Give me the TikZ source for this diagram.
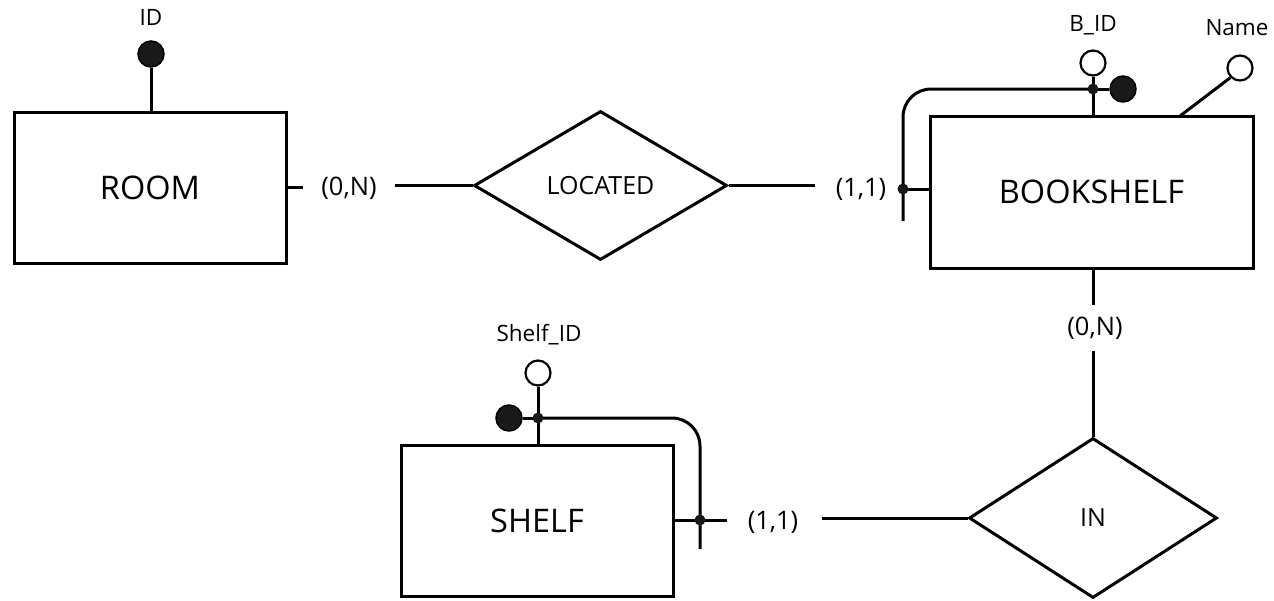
\documentclass[tikz,border=0pt]{standalone}
\usepackage{fontspec}
\setmainfont{Open Sans}
\usetikzlibrary{shapes.geometric,calc}
\begin{document}
\begin{tikzpicture}[x=1pt,y=-1pt,line width=3pt,
  entity/.style={draw,rectangle,inner sep=0,font=\fontsize{32.5}{36}\selectfont},
  relation/.style={draw,diamond,inner sep=0,font=\fontsize{25}{28}\selectfont},
  card/.style={inner sep=0,font=\fontsize{25.5}{28}\selectfont},
  attrlbl/.style={inner sep=0,font=\fontsize{22.5}{26}\selectfont},
  keyc/.style={circle,draw,fill=black!90,inner sep=0,minimum size=26pt,line width=1.5pt},
  attrc/.style={circle,draw,fill=white,inner sep=0,minimum size=25pt,line width=2.2pt},
  jdot/.style={circle,fill=black!90,inner sep=0,minimum size=11pt}]
\useasboundingbox (0,0) rectangle (1274,600);

% entities
\node[entity,minimum width=272pt,minimum height=151pt] (room) at (150,187.5) {ROOM};
\node[entity,minimum width=323pt,minimum height=152pt] (bookshelf) at (1091.5,192) {BOOKSHELF};
\node[entity,minimum width=272pt,minimum height=151pt] (shelf) at (537,520.5) {SHELF};

% relationships
\node[relation,minimum width=253pt,minimum height=149pt] (located) at (600.5,185.5) {LOCATED};
\node[relation,minimum width=248pt,minimum height=160pt] (in) at (1093,518) {IN};

% cardinalities
\node[card] (c1) at (349,188) {(0,N)};
\node[card] (c2) at (861,189) {(1,1)};
\node[card] (c3) at (1095,328) {(0,N)};
\node[card] (c4) at (773,522) {(1,1)};

\coordinate (c1l) at (303,187.5);
\coordinate (c1r) at (395,185.5);
\coordinate (c2l) at (815,185.5);
\coordinate (c3t) at (1093,305);
\coordinate (c3b) at (1093,351);
\coordinate (c4l) at (727,520);
\coordinate (c4r) at (822,518);

\draw (room.east |- c1l) -- (c1l);
\draw (c1r) -- (located.west);
\draw (located.east) -- (c2l);
\draw (bookshelf.south -| c3t) -- (c3t);
\draw (c3b) -- (in.north);
\draw (in.west) -- (c4r);

% ROOM attribute
\node[keyc] (roomid) at (151,54) {};
\node[attrlbl] at (151,17) {ID};
\draw (roomid.south) -- (roomid.south |- room.north);

% BOOKSHELF attributes
\node[attrc] (bid) at (1093,63) {};
\node[attrlbl] at (1093,25) {B\_ID};
\coordinate (bj) at (1093,89);
\node[keyc] (bkey) at (1123,89) {};
\draw (bid.south) -- (bj) -- (bj |- bookshelf.north);
\draw (bj) -- (bkey.west);
\coordinate (bv) at (903,189);
\coordinate (bvend) at (903,221);
\draw[rounded corners=28pt] (bj) -- (903,89) -- (bvend);
\draw (bv) -- (bv -| bookshelf.west);
\node[jdot] at (bj) {};
\node[jdot] at (bv) {};

\node[attrc] (bname) at (1240,68) {};
\node[attrlbl] at (1237,28) {Name};
\draw (bname.225) -- (1180,116);

% SHELF attributes
\node[attrc] (sid) at (538,373) {};
\node[attrlbl] at (539,335) {Shelf\_ID};
\coordinate (sj) at (538,418);
\node[keyc] (skey) at (509,418) {};
\draw (sid.south) -- (sj) -- (sj |- shelf.north);
\draw (sj) -- (skey.east);
\coordinate (sv) at (700,520);
\coordinate (svend) at (700,549);
\draw[rounded corners=28pt] (sj) -- (700,418) -- (svend);
\draw (sv -| shelf.east) -- (c4l);
\node[jdot] at (sj) {};
\node[jdot] at (sv) {};
\end{tikzpicture}
\end{document}
